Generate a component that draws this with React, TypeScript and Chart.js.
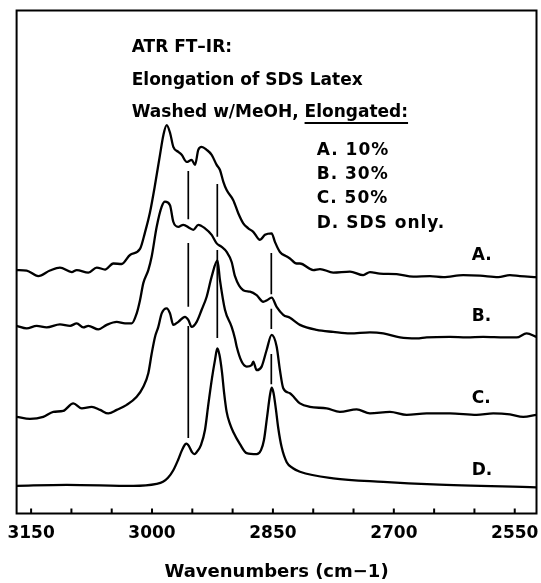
import React, { useEffect, useRef } from "react";
import { Chart, registerables } from "chart.js";

Chart.register(...registerables);

// ---- axis ----
const xMin = 2523;
const xMax = 3168;
const tickValues = [3150, 3100, 3050, 3000, 2950, 2900, 2850, 2800, 2750, 2700, 2650, 2600, 2550];
const tickLabels = [3150, 3000, 2850, 2700, 2550];
const xTitle = "Wavenumbers (cm\u22121)";

// ---- spectra (wavenumber, absorbance incl. vertical offset, arbitrary units) ----
const wnA = [3167.9, 3155.5, 3141.1, 3126.6, 3114.2, 3099.6, 3093.4, 3079.0, 3068.6, 3058.3, 3048.0, 3037.6, 3027.3, 3014.9, 3008.7, 3002.5, 2996.3, 2990.1, 2985.8, 2981.8, 2977.5, 2973.6, 2967.4, 2963.2, 2957.0, 2950.8, 2946.7, 2942.6, 2938.4, 2932.2, 2926.0, 2919.8, 2915.7, 2911.6, 2907.4, 2899.2, 2893.0, 2886.8, 2880.6, 2874.4, 2866.1, 2859.9, 2851.6, 2847.5, 2841.3, 2832.9, 2828.9, 2820.6, 2816.5, 2800.0, 2791.6, 2775.2, 2754.4, 2738.0, 2729.6, 2717.3, 2696.5, 2675.9, 2655.2, 2638.7, 2613.9, 2593.2, 2570.5, 2556.0, 2543.6, 2523];
const absA = [0.484, 0.483, 0.472, 0.483, 0.489, 0.480, 0.484, 0.479, 0.489, 0.485, 0.497, 0.496, 0.514, 0.526, 0.559, 0.599, 0.653, 0.713, 0.753, 0.772, 0.756, 0.729, 0.719, 0.713, 0.699, 0.703, 0.693, 0.723, 0.729, 0.723, 0.713, 0.693, 0.683, 0.660, 0.643, 0.623, 0.597, 0.577, 0.567, 0.560, 0.544, 0.554, 0.557, 0.540, 0.520, 0.511, 0.507, 0.497, 0.497, 0.484, 0.486, 0.479, 0.481, 0.474, 0.480, 0.477, 0.476, 0.471, 0.472, 0.470, 0.474, 0.473, 0.470, 0.474, 0.472, 0.470];

const wnB = [3167.9, 3155.5, 3143.1, 3130.7, 3114.2, 3101.7, 3093.4, 3085.3, 3079.0, 3066.6, 3056.2, 3043.8, 3033.5, 3025.2, 3019.0, 3014.9, 3010.8, 3004.6, 3000.4, 2994.2, 2988.0, 2983.9, 2977.7, 2973.6, 2967.4, 2961.2, 2952.9, 2948.8, 2942.6, 2934.3, 2926.0, 2919.8, 2913.6, 2907.4, 2901.2, 2897.1, 2886.8, 2878.5, 2870.2, 2862.0, 2857.4, 2851.6, 2845.4, 2837.2, 2828.9, 2816.5, 2795.8, 2775.2, 2754.4, 2729.6, 2713.1, 2692.4, 2671.7, 2659.3, 2630.4, 2609.7, 2589.1, 2562.2, 2547.7, 2535.3, 2523];
const absB = [0.373, 0.368, 0.373, 0.370, 0.376, 0.373, 0.378, 0.370, 0.373, 0.366, 0.375, 0.381, 0.378, 0.378, 0.398, 0.424, 0.458, 0.484, 0.511, 0.570, 0.610, 0.620, 0.613, 0.580, 0.570, 0.574, 0.567, 0.564, 0.574, 0.567, 0.554, 0.537, 0.530, 0.520, 0.500, 0.472, 0.444, 0.441, 0.434, 0.421, 0.424, 0.429, 0.411, 0.395, 0.389, 0.375, 0.365, 0.361, 0.358, 0.360, 0.358, 0.350, 0.348, 0.350, 0.351, 0.350, 0.351, 0.350, 0.350, 0.358, 0.351];

const wnC = [3167.9, 3151.4, 3134.9, 3122.5, 3110.1, 3097.7, 3087.2, 3074.8, 3064.5, 3054.2, 3043.8, 3031.4, 3019.0, 3010.8, 3004.6, 3000.4, 2996.3, 2992.2, 2988.0, 2981.8, 2977.7, 2973.6, 2967.4, 2959.1, 2955.0, 2950.8, 2944.6, 2938.4, 2932.2, 2926.0, 2918.8, 2915.7, 2909.5, 2901.2, 2897.1, 2895.0, 2888.8, 2882.6, 2876.4, 2874.4, 2870.2, 2864.0, 2857.8, 2851.6, 2845.4, 2841.3, 2837.2, 2828.9, 2816.5, 2804.1, 2783.3, 2766.9, 2746.1, 2729.6, 2704.8, 2684.1, 2659.3, 2630.4, 2597.3, 2576.7, 2556.0, 2539.5, 2523];
const absC = [0.192, 0.188, 0.192, 0.202, 0.204, 0.219, 0.209, 0.212, 0.206, 0.199, 0.206, 0.216, 0.232, 0.252, 0.279, 0.318, 0.351, 0.371, 0.398, 0.408, 0.398, 0.375, 0.381, 0.391, 0.385, 0.371, 0.381, 0.405, 0.431, 0.471, 0.503, 0.464, 0.405, 0.371, 0.348, 0.332, 0.302, 0.292, 0.295, 0.302, 0.285, 0.292, 0.325, 0.355, 0.332, 0.285, 0.249, 0.239, 0.219, 0.212, 0.209, 0.202, 0.207, 0.199, 0.202, 0.196, 0.199, 0.199, 0.196, 0.199, 0.197, 0.192, 0.196];

const wnD = [3167.9, 3105.8, 3023.2, 2994.2, 2986.4, 2980.2, 2973.6, 2967.8, 2962.8, 2959.1, 2957.0, 2954.2, 2950.4, 2947.3, 2944.6, 2939.3, 2934.3, 2930.2, 2925.6, 2921.9, 2919.0, 2916.3, 2913.2, 2910.7, 2907.4, 2903.3, 2899.2, 2890.9, 2882.6, 2870.2, 2864.8, 2861.1, 2857.4, 2853.6, 2851.6, 2849.3, 2846.2, 2843.4, 2839.2, 2832.9, 2825.1, 2816.5, 2775.2, 2713.1, 2651.1, 2523];
const absD = [0.055, 0.057, 0.055, 0.059, 0.063, 0.071, 0.086, 0.106, 0.126, 0.137, 0.139, 0.134, 0.122, 0.118, 0.122, 0.136, 0.166, 0.216, 0.269, 0.305, 0.328, 0.315, 0.281, 0.242, 0.202, 0.178, 0.162, 0.138, 0.120, 0.118, 0.126, 0.146, 0.190, 0.236, 0.250, 0.240, 0.206, 0.170, 0.132, 0.102, 0.090, 0.083, 0.070, 0.063, 0.058, 0.052];

// ---- dashed band markers (wavenumber, segments as [from, to] in absorbance units) ----
const markerWn = [2955, 2919, 2852];
const markerSegments = [
  [[0.681, 0.585], [0.538, 0.411], [0.373, 0.150]],
  [[0.655, 0.550], [0.524, 0.349]],
  [[0.518, 0.436], [0.407, 0.367], [0.317, 0.257]],
];

// ---- texts ----
const headerLines = ["ATR FT\u2013IR:", "Elongation of SDS Latex", "Washed w/MeOH, Elongated:"];
const headerPrefix = "Washed w/MeOH, ";
const underlined = "Elongated:";
const legendLines = ["A. 10%", "B. 30%", "C. 50%", "D. SDS only."];
const traceLabels = ["A.", "B.", "C.", "D."];

const FONT = '"DejaVu Sans", sans-serif';

const toPoints = (xs: number[], ys: number[]) => xs.map((x, i) => ({ x, y: ys[i] }));

const overlayPlugin = {
  id: "overlay",
  afterDraw(chart: any) {
    const { ctx, chartArea } = chart;
    const { left, right, top, bottom } = chartArea;
    const xs = chart.scales.x;
    ctx.save();
    ctx.strokeStyle = "#000";
    ctx.fillStyle = "#000";
    ctx.lineWidth = 2;
    ctx.strokeRect(left, top, right - left, bottom - top);
    // inward ticks
    ctx.beginPath();
    for (const v of tickValues) {
      const px = xs.getPixelForValue(v);
      ctx.moveTo(px, bottom);
      ctx.lineTo(px, bottom - 5);
    }
    ctx.stroke();

    // header text
    ctx.font = `bold 17px ${FONT}`;
    ctx.textAlign = "left";
    ctx.textBaseline = "alphabetic";
    const hx = 131.7;
    const hy = [51.7, 85, 116.7];
    headerLines.forEach((t, i) => ctx.fillText(t, hx, hy[i]));
    const ux0 = hx + ctx.measureText(headerPrefix).width;
    const ux1 = ux0 + ctx.measureText(underlined).width;
    ctx.lineWidth = 1.8;
    ctx.beginPath();
    ctx.moveTo(ux0, 123);
    ctx.lineTo(ux1, 123);
    ctx.stroke();

    // legend text
    const ly = [155, 179, 203, 228];
    (ctx as any).letterSpacing = "1px";
    legendLines.forEach((t, i) => ctx.fillText(t, 316.7, ly[i]));
    (ctx as any).letterSpacing = "0px";

    // trace labels
    ctx.textBaseline = "middle";
    const ty = [256, 317, 399, 471];
    traceLabels.forEach((t, i) => ctx.fillText(t, 471.7, ty[i]));
    ctx.restore();
  },
};

export default function App() {
  const ref = useRef<HTMLCanvasElement | null>(null);

  useEffect(() => {
    if (!ref.current) return;
    const spectra = [
      toPoints(wnA, absA),
      toPoints(wnB, absB),
      toPoints(wnC, absC),
      toPoints(wnD, absD),
    ];
    const spectrumSets = spectra.map((data, i) => ({
      label: traceLabels[i],
      data,
      borderColor: "#000",
      borderWidth: 2.3,
      pointRadius: 0,
      fill: false,
      cubicInterpolationMode: "monotone" as const,
    }));
    const markerSets = markerWn.map((wn, i) => {
      const data: any[] = [];
      markerSegments[i].forEach(([a, b]) => {
        data.push({ x: wn, y: a }, { x: wn, y: b }, { x: wn, y: null });
      });
      return {
        label: `marker ${wn}`,
        data,
        borderColor: "#000",
        borderWidth: 1.7,
        pointRadius: 0,
        fill: false,
        spanGaps: false,
        tension: 0,
      };
    });

    const chart = new Chart(ref.current, {
      type: "line",
      data: { datasets: [...spectrumSets, ...markerSets] as any },
      options: {
        animation: false,
        responsive: false,
        maintainAspectRatio: false,
        parsing: true,
        layout: { padding: { left: 16.6, top: 10.5, right: 4.5, bottom: 0 } },
        plugins: { legend: { display: false }, tooltip: { enabled: false }, title: { display: false } },
        scales: {
          x: {
            type: "linear",
            reverse: true,
            min: xMin,
            max: xMax,
            afterBuildTicks: (s: any) => {
              s.ticks = tickValues.map((v) => ({ value: v }));
            },
            afterFit: (s: any) => {
              s.height = 69.5;
              s.paddingLeft = 0;
              s.paddingRight = 0;
            },
            ticks: {
              autoSkip: false,
              maxRotation: 0,
              padding: 10,
              color: "#000",
              font: { family: FONT, size: 17, weight: "bold" },
              callback: (v: any) => (tickLabels.includes(Number(v)) ? String(v) : ""),
            },
            grid: { display: false, drawTicks: false },
            border: { display: false },
            title: {
              display: true,
              text: xTitle,
              color: "#000",
              font: { family: FONT, size: 18, weight: "bold" },
              padding: { top: 0, bottom: 0 },
            },
          },
          y: { display: false, min: 0, max: 1 },
        },
      } as any,
      plugins: [overlayPlugin],
    });
    return () => chart.destroy();
  }, []);

  return (
    <div style={{ position: "fixed", left: 0, top: 0, width: 541, height: 583, background: "#fff" }}>
      <canvas ref={ref} width={541} height={583} style={{ display: "block" }} />
    </div>
  );
}
